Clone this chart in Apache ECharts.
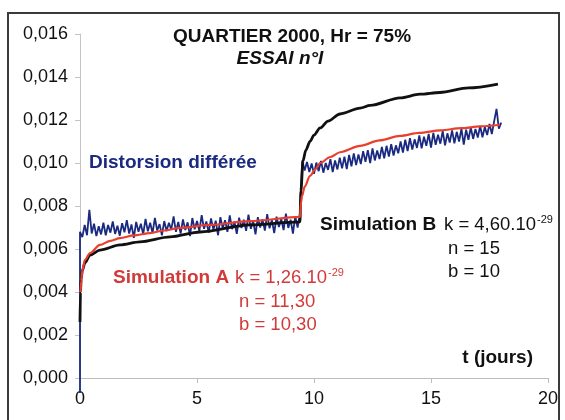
<!DOCTYPE html>
<html>
<head>
<meta charset="utf-8">
<script src="https://cdn.jsdelivr.net/npm/echarts@6/dist/echarts.min.js"></script>
<style>
  html, body { margin: 0; padding: 0; background: #fff; }
  #chart { width: 565px; height: 420px; }
</style>
</head>
<body>
<div id="chart"></div>
<script>
// Measured creep distortion: regular sampling every 0.1 day starting at t = 0.1
const distStartT = 0.1;
const distStepT = 0.1;
const distValues = [
  0.00655, 0.00712, 0.00664, 0.00782, 0.00672, 0.00718, 0.00660, 0.00706, 0.00668,
  0.00722, 0.00664, 0.00712, 0.00676, 0.00728, 0.00670, 0.00708, 0.00662, 0.00720, 0.00678,
  0.00734, 0.00672, 0.00714, 0.00652, 0.00726, 0.00680, 0.00718, 0.00668, 0.00740, 0.00682,
  0.00722, 0.00674, 0.00745, 0.00686, 0.00716, 0.00664, 0.00730, 0.00684, 0.00722, 0.00690,
  0.00752, 0.00680, 0.00726, 0.00672, 0.00738, 0.00688, 0.00724, 0.00660, 0.00744, 0.00692,
  0.00730, 0.00684, 0.00758, 0.00694, 0.00728, 0.00676, 0.00742, 0.00690, 0.00732, 0.00664,
  0.00748, 0.00696, 0.00734, 0.00680, 0.00756, 0.00692, 0.00728, 0.00670, 0.00746, 0.00698,
  0.00736, 0.00684, 0.00760, 0.00694, 0.00730, 0.00668, 0.00748, 0.00700, 0.00738, 0.00686,
  0.00762, 0.00696, 0.00734, 0.00674, 0.00750, 0.00702, 0.00740, 0.00688, 0.00764, 0.00698,
  0.00736, 0.00672, 0.00752, 0.00700, 0.00766,
  0.01012, 0.00965, 0.01005, 0.00958, 0.00998,
  0.00950, 0.01002, 0.00962, 0.01010, 0.00955, 0.01000, 0.00968, 0.01018, 0.00958, 0.01012,
  0.00970, 0.01025, 0.00975, 0.01030, 0.00972, 0.01038, 0.00985, 0.01045, 0.00990, 0.01040,
  0.00995, 0.01055, 0.01005, 0.01060, 0.01000, 0.01068, 0.01012, 0.01058, 0.01018, 0.01075,
  0.01022, 0.01080, 0.01030, 0.01088, 0.01035, 0.01082, 0.01045, 0.01100, 0.01048, 0.01108,
  0.01055, 0.01115, 0.01062, 0.01110, 0.01070, 0.01128, 0.01068, 0.01122, 0.01080, 0.01135,
  0.01072, 0.01140, 0.01085, 0.01132, 0.01090, 0.01148, 0.01082, 0.01138, 0.01095, 0.01152,
  0.01092, 0.01145, 0.01100, 0.01160, 0.01085, 0.01155, 0.01108, 0.01165, 0.01112, 0.01158,
  0.01118, 0.01172, 0.01120, 0.01168, 0.01130, 0.01182, 0.01135, 0.01195, 0.01252, 0.01160,
  0.01188
];
// Loading instant: the recorder jumps from below zero to the first reading
const distOrigin = [[0, -0.0007], [0, 0.0068]];

// Simulation A (k = 1,26.10^-29, n = 11,30, b = 10,30)
const simAT = [0.02, 0.05, 0.1, 0.21, 0.43, 0.85, 1.3, 1.71, 2.3, 2.99, 3.6, 4.27, 5.56, 7.26, 9.4,
               9.45, 9.49, 9.6, 9.83, 10.05, 10.26, 10.7, 11.11, 11.97, 12.8, 13.68, 14.5, 15.4, 16.3, 17.1, 17.95];
const simAV = [0.0040, 0.0045, 0.0050, 0.00549, 0.00581, 0.00619, 0.00638, 0.00651, 0.00663, 0.00674, 0.00686, 0.00698, 0.00712, 0.0073, 0.00749,
               0.0082, 0.00847, 0.0089, 0.0094, 0.0097, 0.0100, 0.01028, 0.0105, 0.0108, 0.01105, 0.01126, 0.0114, 0.01152, 0.01162, 0.0117, 0.01178];

// Simulation B (k = 4,60.10^-29, n = 15, b = 10)
const simBT = [0, 0.02, 0.05, 0.1, 0.21, 0.43, 0.85, 1.71, 2.56, 3.85, 5.13, 7.26, 9.4,
               9.44, 9.53, 9.65, 9.83, 10.0, 10.26, 10.6, 11.11, 11.97, 12.4, 13.68, 14.53, 15.38, 16.6, 17.86];
const simBV = [0.0026, 0.0040, 0.0046, 0.0050, 0.00535, 0.00572, 0.00595, 0.00619, 0.00633, 0.00656, 0.00679, 0.00712, 0.00726,
               0.0087, 0.0101, 0.0106, 0.0110, 0.0113, 0.01163, 0.01195, 0.01228, 0.01255, 0.01268, 0.01303, 0.0132, 0.01328, 0.01349, 0.01367];

// Axis ticks
const xTicks = [0, 5, 10, 15, 20];
const yTicks = [0, 0.002, 0.004, 0.006, 0.008, 0.010, 0.012, 0.014, 0.016];

const pair = (ts, vs) => ts.map((t, i) => [t, vs[i]]);
const distData = distOrigin.concat(distValues.map((v, i) => [+(distStartT + i * distStepT).toFixed(2), v]));

const FONT = 'Liberation Sans, Arial, sans-serif';
const NAVY = '#1a2a80';
const RED = '#e8402c';
const RED_TXT = '#d23a3a';
const NORMAL = '18.5px ' + FONT;

const chart = echarts.init(document.getElementById('chart'), null, { renderer: 'canvas' });

chart.setOption({
  animation: false,
  backgroundColor: '#ffffff',
  grid: { left: 80, right: 17, top: 34, bottom: 42 },
  xAxis: {
    type: 'value',
    min: xTicks[0], max: xTicks[xTicks.length - 1], interval: 5,
    axisLine: { show: true, onZero: false, lineStyle: { color: '#bdbdbd', width: 1 } },
    axisTick: { show: true, inside: false, length: 5, lineStyle: { color: '#bdbdbd' } },
    axisLabel: { color: '#111', fontFamily: FONT, fontSize: 18, margin: 12 },
    splitLine: { show: false }
  },
  yAxis: {
    type: 'value',
    min: yTicks[0], max: yTicks[yTicks.length - 1], interval: 0.002,
    axisLine: { show: true, lineStyle: { color: '#c4c4c4', width: 1 } },
    axisTick: { show: true, length: 5, lineStyle: { color: '#c4c4c4' } },
    axisLabel: {
      color: '#111', fontFamily: FONT, fontSize: 18, margin: 12,
      formatter: v => v.toFixed(3).replace('.', ',')
    },
    splitLine: { show: false }
  },
  series: [
    {
      name: 'Distorsion différée',
      type: 'line', data: distData, showSymbol: false, clip: false,
      lineStyle: { color: NAVY, width: 1.8 }, z: 2
    },
    {
      name: 'Simulation B',
      type: 'line', data: pair(simBT, simBV), showSymbol: false,
      smooth: 0.3, smoothMonotone: 'x',
      lineStyle: { color: '#111', width: 2.8 }, z: 3
    },
    {
      name: 'Simulation A',
      type: 'line', data: pair(simAT, simAV), showSymbol: false,
      smooth: 0.3, smoothMonotone: 'x',
      lineStyle: { color: RED, width: 2.2 }, z: 4
    }
  ],
  graphic: [
    {
      type: 'rect', silent: true, z: -1,
      shape: { x: 8, y: 13, width: 551, height: 420 },
      style: { fill: 'none', stroke: '#3a3a3a', lineWidth: 2 }
    },
    {
      type: 'text', x: 292, y: 37,
      style: { text: 'QUARTIER 2000, Hr = 75%', font: 'bold 19px ' + FONT, fill: '#111',
               textAlign: 'center', textVerticalAlign: 'middle' }
    },
    {
      type: 'text', x: 280, y: 59,
      style: { text: 'ESSAI n°I', font: 'italic bold 19px ' + FONT, fill: '#111',
               textAlign: 'center', textVerticalAlign: 'middle' }
    },
    {
      type: 'text', x: 89, y: 163,
      style: { text: 'Distorsion différée', font: 'bold 19px ' + FONT, fill: NAVY,
               textAlign: 'left', textVerticalAlign: 'middle' }
    },
    {
      type: 'text', x: 320, y: 225,
      style: { text: 'Simulation B', font: 'bold 19px ' + FONT, fill: '#111',
               textAlign: 'left', textVerticalAlign: 'middle' }
    },
    {
      type: 'text', x: 444, y: 225,
      style: {
        text: '{m|k = 4,60.10}{s|-29}', textAlign: 'left', textVerticalAlign: 'middle',
        rich: {
          m: { font: NORMAL, fill: '#111', color: '#111' },
          s: { font: '11px ' + FONT, fill: '#111', color: '#111', verticalAlign: 'top', padding: [0, 0, 10, 1] }
        }
      }
    },
    {
      type: 'text', x: 448, y: 249,
      style: { text: 'n = 15', font: NORMAL, fill: '#111', textAlign: 'left', textVerticalAlign: 'middle' }
    },
    {
      type: 'text', x: 448, y: 272,
      style: { text: 'b = 10', font: NORMAL, fill: '#111', textAlign: 'left', textVerticalAlign: 'middle' }
    },
    {
      type: 'text', x: 113, y: 278,
      style: { text: 'Simulation A', font: 'bold 19px ' + FONT, fill: RED_TXT,
               textAlign: 'left', textVerticalAlign: 'middle' }
    },
    {
      type: 'text', x: 235, y: 278,
      style: {
        text: '{m|k = 1,26.10}{s|-29}', textAlign: 'left', textVerticalAlign: 'middle',
        rich: {
          m: { font: NORMAL, fill: RED_TXT, color: RED_TXT },
          s: { font: '11px ' + FONT, fill: RED_TXT, color: RED_TXT, verticalAlign: 'top', padding: [0, 0, 10, 1] }
        }
      }
    },
    {
      type: 'text', x: 239, y: 302,
      style: { text: 'n = 11,30', font: NORMAL, fill: RED_TXT, textAlign: 'left', textVerticalAlign: 'middle' }
    },
    {
      type: 'text', x: 239, y: 325,
      style: { text: 'b = 10,30', font: NORMAL, fill: RED_TXT, textAlign: 'left', textVerticalAlign: 'middle' }
    },
    {
      type: 'text', x: 533, y: 358,
      style: { text: 't (jours)', font: 'bold 19px ' + FONT, fill: '#111', textAlign: 'right', textVerticalAlign: 'middle' }
    }
  ]
});
</script>
</body>
</html>
